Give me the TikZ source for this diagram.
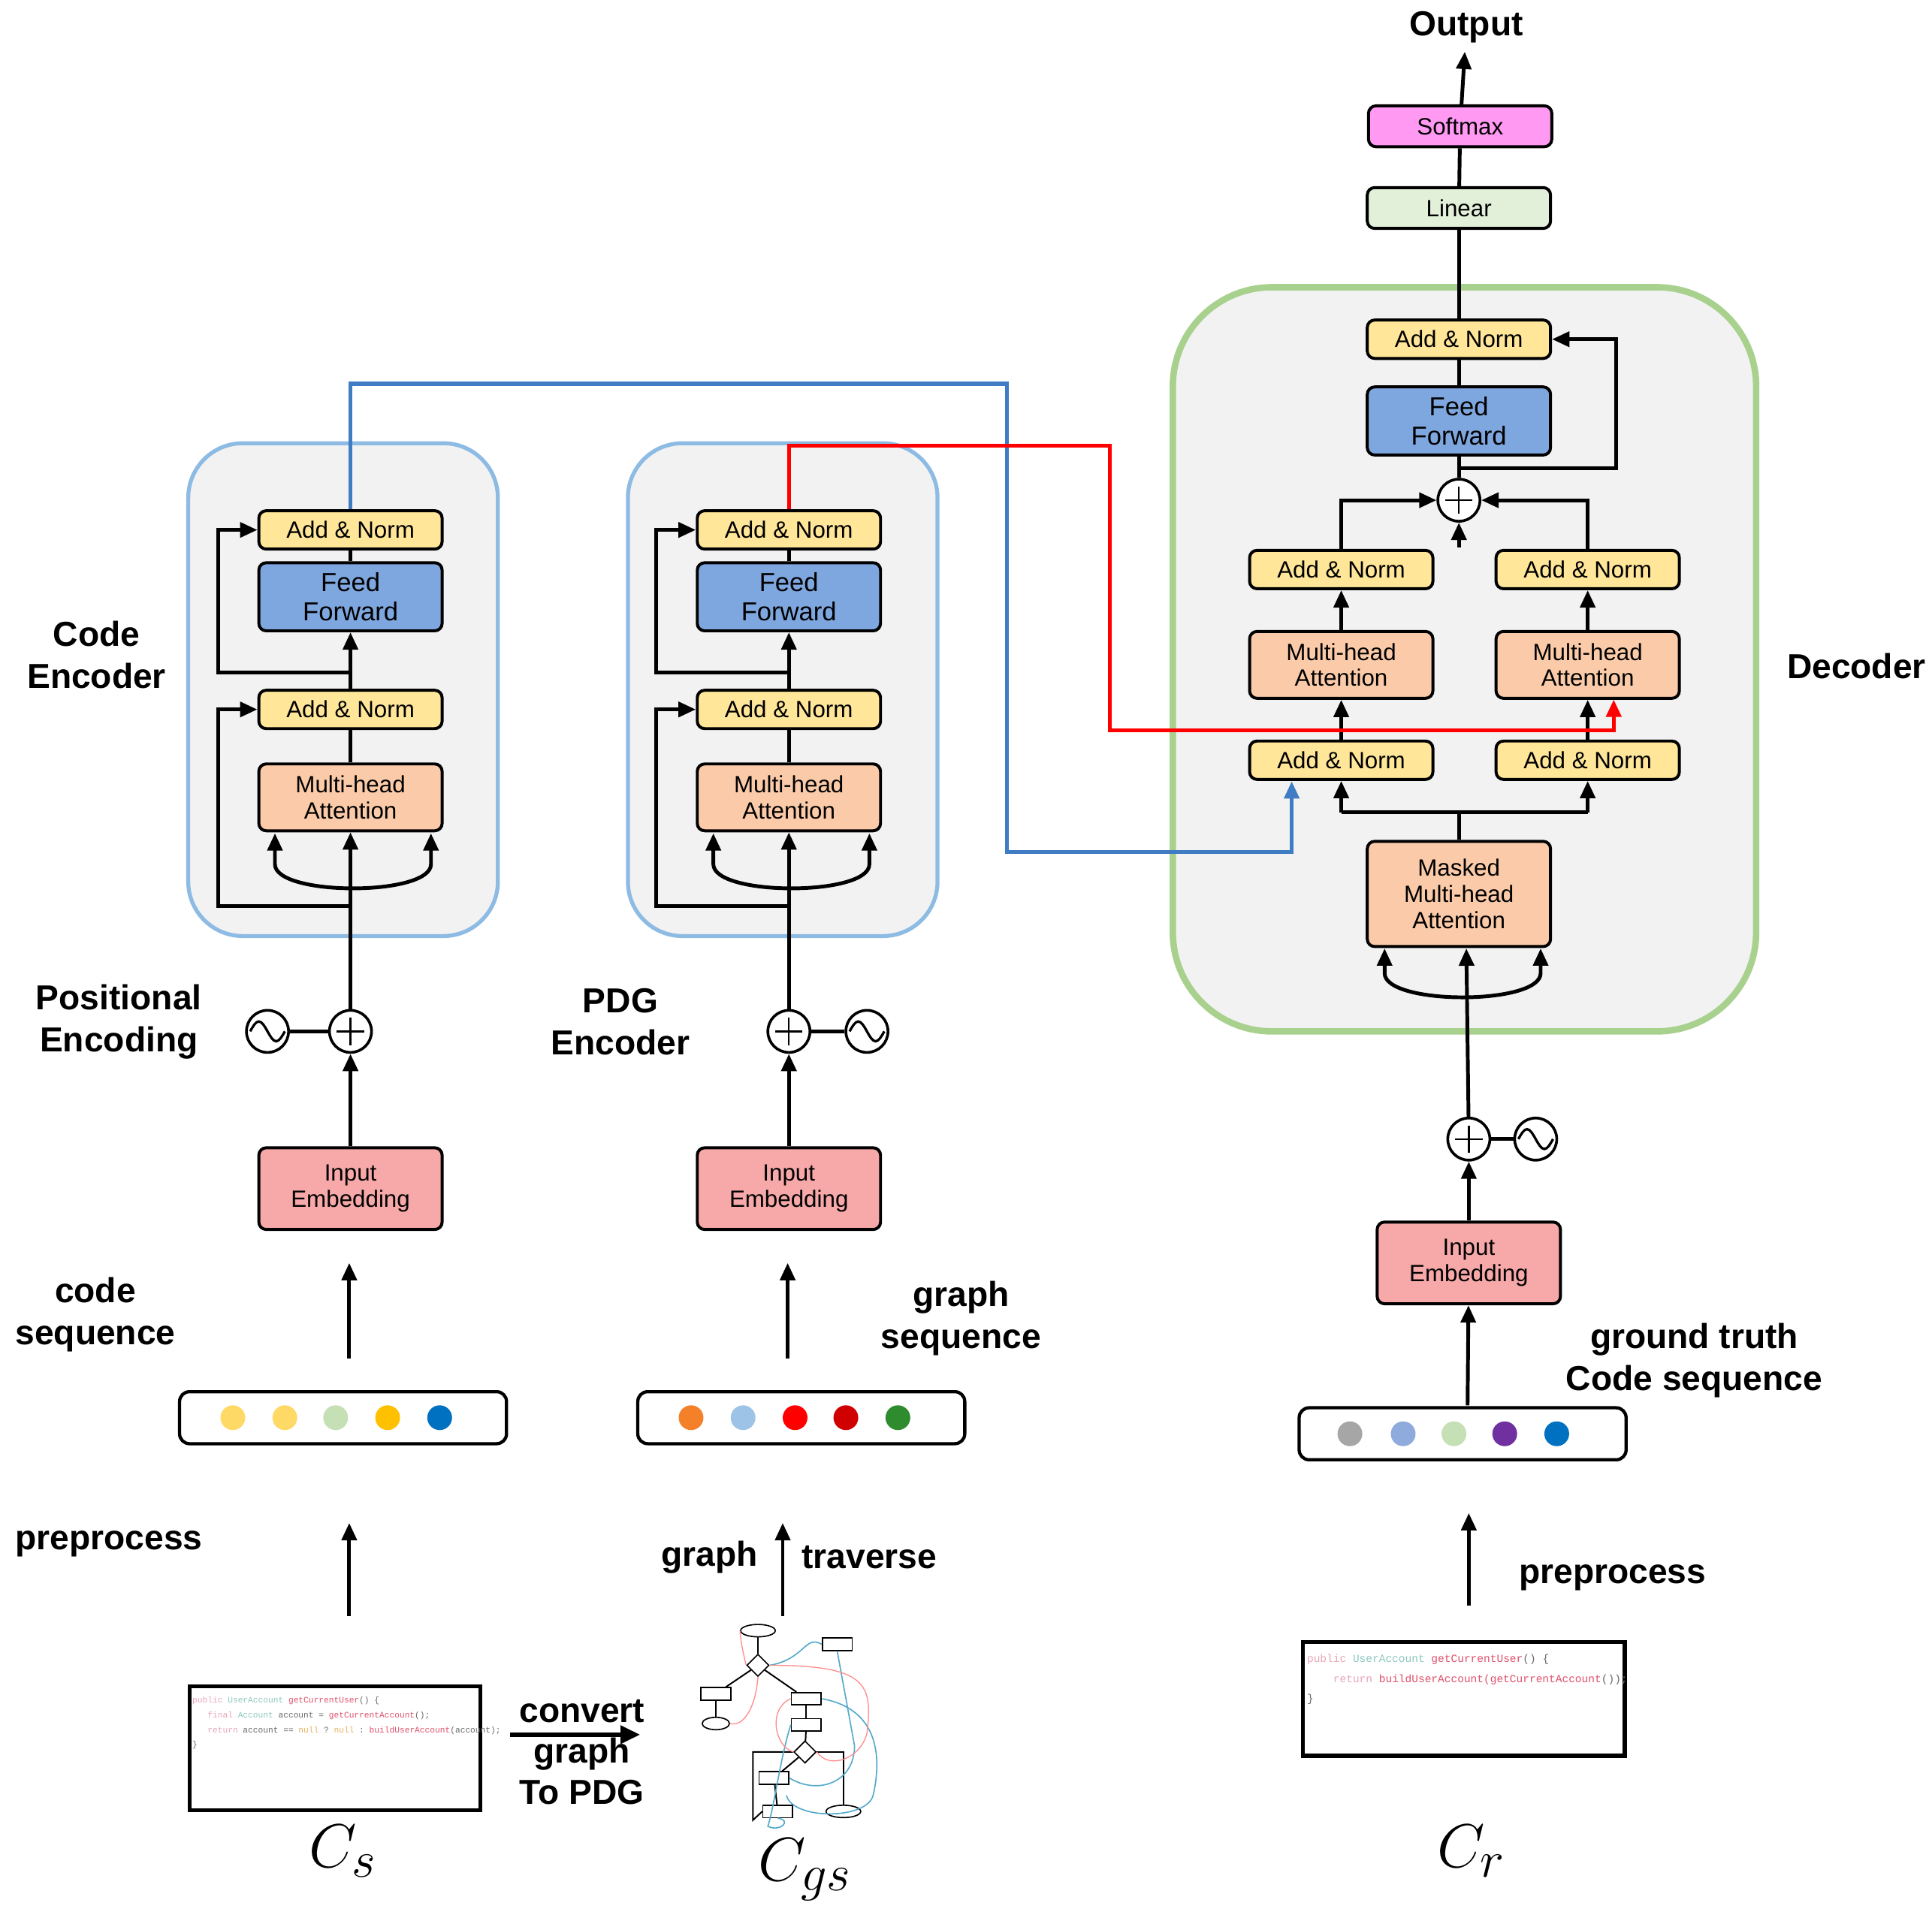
\documentclass[tikz,border=0pt]{standalone}
\usepackage{fontspec}
\setmainfont{Liberation Sans}
\setmonofont{Liberation Mono}
\usetikzlibrary{arrows.meta,calc,shapes.geometric}
\definecolor{anY}{HTML}{FFE699}
\definecolor{ffB}{HTML}{7FA7DF}
\definecolor{mhaP}{HTML}{FBCBA9}
\definecolor{embP}{HTML}{F7A8A8}
\definecolor{smP}{HTML}{FF99F2}
\definecolor{linG}{HTML}{E2F0D9}
\definecolor{panelB}{HTML}{8DBBE3}
\definecolor{panelG}{HTML}{A9D18E}
\definecolor{panelF}{HTML}{F2F2F2}
\definecolor{connB}{HTML}{3F7CC4}
\definecolor{kw}{HTML}{E8A6B8}
\definecolor{ty}{HTML}{8CC8BE}
\definecolor{fn}{HTML}{E0506A}
\definecolor{pl}{HTML}{6A6A6A}
\definecolor{nl}{HTML}{E8B060}
\tikzset{
  blk/.style={draw, line width=1.2pt, rounded corners=3pt, minimum width=74pt, align=center, inner sep=1pt, font=\fontsize{9.5}{10.5}\selectfont},
  an/.style={blk, fill=anY, minimum height=15.5pt},
  ff/.style={blk, fill=ffB, minimum height=27.5pt, font=\fontsize{10.5}{12}\selectfont},
  mha/.style={blk, fill=mhaP, minimum height=27pt},
  emb/.style={blk, fill=embP, minimum height=33pt},
  ln/.style={line width=1.5pt},
  arr/.style={line width=1.5pt, -{Triangle[length=7pt,width=6pt]}},
  plus/.style={circle, draw, fill=white, line width=1.1pt, minimum size=17pt, inner sep=0pt,
    path picture={\draw[line width=0.7pt] (path picture bounding box.center) +(-5.5pt,0) -- +(5.5pt,0) +(0,-5.5pt) -- +(0,5.5pt);}},
  sine/.style={circle, draw, fill=white, line width=1.1pt, minimum size=17pt, inner sep=0pt,
    path picture={\draw[line width=1pt] ([xshift=-7pt]path picture bounding box.center) sin ++(3.5pt,4pt) cos ++(3.5pt,-4pt) sin ++(3.5pt,-4pt) cos ++(3.5pt,4pt);}},
  lab/.style={font=\fontsize{14}{17}\selectfont\bfseries, align=center},
  tok/.style={draw, line width=1.3pt, rounded corners=4pt, fill=white},
  code/.style={draw, line width=1.6pt, fill=white},
  gn/.style={draw, line width=0.5pt, fill=white, minimum width=12pt, minimum height=5pt, inner sep=0pt},
}
\begin{document}
\begin{tikzpicture}[x=0.5pt,y=-0.5pt]
\useasboundingbox (0,0) rectangle (1560,1551);

% panels
\draw[panelB, line width=1.6pt, fill=panelF, rounded corners=22pt] (152,358) rectangle (402,756);
\draw[panelB, line width=1.6pt, fill=panelF, rounded corners=22pt] (507,358) rectangle (757,756);
\draw[panelG, line width=2.6pt, fill=panelF, rounded corners=40pt] (947,232) rectangle (1418,833);

% encoders
\foreach \c/\n/\s in {283/a/-67, 637/b/63}{
  \node[an] (\n an2) at (\c,428) {Add \& Norm};
  \node[ff] (\n ff) at (\c,482) {Feed\\Forward};
  \node[an] (\n an1) at (\c,573) {Add \& Norm};
  \node[mha] (\n mha) at (\c,644) {Multi-head\\Attention};
  \node[plus] (\n plus) at (\c,833) {};
  \node[sine] (\n sin) at (\c+\s,833) {};
  \node[emb] (\n emb) at (\c,960) {Input\\Embedding};
  \draw[ln] (\n plus) -- (\n sin);
  \draw[arr] (\n plus) -- (\n mha);
  \draw[ln] (\n mha) -- (\n an1);
  \draw[arr] (\n an1) -- (\n ff);
  \draw[ln] (\n ff) -- (\n an2);
  \draw[arr] (\c,732) -- (\c-107,732) |- (\n an1.west);
  \draw[arr] (\c,543) -- (\c-107,543) |- (\n an2.west);
  \draw[line width=1.5pt, {Triangle[length=7pt,width=6pt]}-{Triangle[length=7pt,width=6pt]}] (\c-61,673) -- (\c-61,698) .. controls (\c-61,724) and (\c+65,724) .. (\c+65,698) -- (\c+65,673);
  \draw[arr] (\n emb) -- (\n plus);
  \coordinate (\n in1) at (\c-1,1097);
  \coordinate (\n in2) at (\c-1,1020);
  \draw[arr] (\n in1) -- (\n in2);
}

% decoder
\node[font=\fontsize{14}{17}\selectfont\bfseries] (out) at (1184,22) {Output};
\node[blk, fill=smP, minimum height=16.5pt] (dsm) at (1179,102) {Softmax};
\node[blk, fill=linG, minimum height=16.5pt] (dlin) at (1178,168) {Linear};
\node[an] (dan3) at (1178,274) {Add \& Norm};
\node[ff] (dff) at (1178,340) {Feed\\Forward};
\node[plus] (dplus) at (1178,404) {};
\node[an] (danl2) at (1083,460) {Add \& Norm};
\node[an] (danr2) at (1282,460) {Add \& Norm};
\node[mha] (dmhl) at (1083,537) {Multi-head\\Attention};
\node[mha] (dmhr) at (1282,537) {Multi-head\\Attention};
\node[an] (danl1) at (1083,614) {Add \& Norm};
\node[an] (danr1) at (1282,614) {Add \& Norm};
\node[blk, fill=mhaP, minimum height=42.5pt] (dmm) at (1178,722) {Masked\\Multi-head\\Attention};
\node[plus] (dp2) at (1186,920) {};
\node[sine] (ds2) at (1240,920) {};
\node[emb] (demb) at (1186,1020) {Input\\Embedding};

\draw[arr] (dsm) -- (out);
\draw[ln] (dlin) -- (dsm);
\draw[ln] (dan3) -- (dlin);
\draw[ln] (dff) -- (dan3);
\draw[ln] (dff) -- (dplus);
\draw[arr] (1178,378) -- (1305,378) |- (dan3.east);
\draw[arr] (danl2.north) |- (dplus.west);
\draw[arr] (danr2.north) |- (dplus.east);
\draw[arr] (1178,442) -- (dplus.south);
\draw[arr] (dmhl) -- (danl2);
\draw[arr] (dmhr) -- (danr2);
\draw[arr] (danl1) -- (dmhl);
\draw[arr] (danr1) -- (dmhr);
\draw[ln] (dmm.north) -- (1178,656);
\draw[arr] (1083,656) -- (danl1.south);
\draw[arr] (1282,656) -- (danr1.south);
\draw[ln] (1083,656) -- (1282,656);
\draw[line width=1.5pt, {Triangle[length=7pt,width=6pt]}-{Triangle[length=7pt,width=6pt]}] (1118,766) -- (1118,786) .. controls (1118,812) and (1244,812) .. (1244,786) -- (1244,766);
\draw[arr] (dp2) -- (1184,766);
\draw[ln] (dp2) -- (ds2);
\draw[arr] (demb) -- (dp2);
\coordinate (din1) at (1185,1135);
\draw[arr] (din1) -- (demb);

% cross connectors
\draw[connB, line width=1.6pt, -{Triangle[length=7pt,width=6pt]}] (aan2.north) -- (283,310) -- (813,310) -- (813,688) -- (1043,688) -- (1043,631);
\draw[red, line width=1.6pt, -{Triangle[length=7pt,width=6pt]}] (ban2.north) -- (637,360) -- (896,360) -- (896,590) -- (1303,590) -- (1303,565);

% token boxes
\node[tok, minimum width=132pt, minimum height=21pt] (ta) at (277,1145) {};
\foreach \x/\col in {188/FFD966, 230/FFD966, 271/C5E0B4, 313/FFC000, 355/0070C0}{
  \definecolor{tmpc}{HTML}{\col}\fill[tmpc] (\x,1145) circle (5pt);}
\node[tok, minimum width=132pt, minimum height=21pt] (tb) at (647,1145) {};
\foreach \x/\col in {558/F4802A, 600/9DC3E6, 642/FF0000, 683/D00000, 725/2E8B2E}{
  \definecolor{tmpc}{HTML}{\col}\fill[tmpc] (\x,1145) circle (5pt);}
\node[tok, minimum width=132pt, minimum height=21pt] (tc) at (1181,1158) {};
\foreach \x/\col in {1090/A6A6A6, 1133/8FAADC, 1174/C5E0B4, 1215/7030A0, 1257/0070C0}{
  \definecolor{tmpc}{HTML}{\col}\fill[tmpc] (\x,1158) circle (5pt);}

% preprocess arrows
\draw[arr] (282,1305) -- (282,1230);
\draw[arr] (632,1305) -- (632,1230);
\draw[arr] (1186,1297) -- (1186,1222);

% labels
\node[lab] at (78,529) {Code\\Encoder};
\node[lab] at (96,825) {Positional\\Encoding};
\node[lab] at (501,825) {PDG\\Encoder};
\node[lab] at (77,1062) {code\\sequence};
\node[lab] at (776,1065) {graph\\sequence};
\node[lab] at (88,1247) {preprocess};
\node[lab] at (573,1258) {graph};
\node[lab] at (702,1258) {traverse};
\node[lab] at (1499,538) {Decoder};
\node[lab] at (1368,1099) {ground truth\\Code sequence};
\node[lab] at (1302,1274) {preprocess};
\node[lab, font=\fontsize{14}{16.5}\selectfont\bfseries] (conv) at (470,1415) {convert\\graph\\To PDG};
\draw[line width=2pt, -{Triangle[length=8pt,width=7pt]}] (412,1401) -- (517,1401);

% code boxes
\draw[code] (153,1362) rectangle (388,1462);
\node[anchor=north west, inner sep=0pt, font=\ttfamily\fontsize{3.4}{6}\selectfont, align=left] at (155,1370) {%
\textcolor{kw}{public} \textcolor{ty}{UserAccount} \textcolor{fn}{getCurrentUser}\textcolor{pl}{() \{}\\
\ \ \ \textcolor{kw}{final} \textcolor{ty}{Account} \textcolor{pl}{account =} \textcolor{fn}{getCurrentAccount}\textcolor{pl}{();}\\
\ \ \ \textcolor{kw}{return} \textcolor{pl}{account ==} \textcolor{nl}{null} \textcolor{pl}{?} \textcolor{nl}{null} \textcolor{pl}{:} \textcolor{fn}{buildUserAccount}\textcolor{pl}{(account);}\\
\textcolor{pl}{\}}};
\draw[code] (1052,1326) rectangle (1312,1418);
\node[anchor=north west, inner sep=0pt, font=\ttfamily\fontsize{4.4}{8}\selectfont, align=left] at (1055,1336) {%
\textcolor{kw}{public} \textcolor{ty}{UserAccount} \textcolor{fn}{getCurrentUser}\textcolor{pl}{() \{}\\
\ \ \ \ \textcolor{kw}{return} \textcolor{fn}{buildUserAccount(getCurrentAccount}\textcolor{pl}{());}\\
\textcolor{pl}{\}}};

\node at (277,1495) {\fontsize{30}{32}\selectfont$C_s$};
\node at (650,1510) {\fontsize{30}{32}\selectfont$C_{gs}$};
\node at (1188,1495) {\fontsize{30}{32}\selectfont$C_r$};

% PDG graph sketch
\begin{scope}[every node/.style={gn}]
\node[ellipse, minimum width=14pt] (g1) at (612,1317) {};
\node[diamond, minimum width=9pt, minimum height=9pt] (g2) at (612,1345) {};
\node (g3) at (578,1368) {};
\node[ellipse, minimum width=11pt] (g4) at (578,1392) {};
\node (g5) at (651,1372) {};
\node (g6) at (651,1393) {};
\node[diamond, minimum width=9pt, minimum height=9pt] (g7) at (650,1415) {};
\node (g8) at (625,1436) {};
\node (g9) at (628,1463) {};
\node[ellipse, minimum width=14pt] (g10) at (681,1463) {};
\node (g11) at (676,1328) {};
\end{scope}
\begin{scope}[line width=0.6pt]
\draw (g1) -- (g2); \draw (g2) -- (g3); \draw (g3) -- (g4); \draw (g2) -- (g5);
\draw (g5) -- (g6); \draw (g6) -- (g7); \draw (g7) -- (g8); \draw (g8) -- (g9);
\draw (g7.east) -| (g10.north);
\draw (g7.west) -- (608,1415) -- (608,1470) -- (g9.west);
\end{scope}
\begin{scope}[line width=0.5pt, cyan!60!gray]
\draw (g2.east) .. controls (650,1340) and (650,1320) .. (g11.west);
\draw (g11.south) -- (690,1410) .. controls (690,1440) and (660,1450) .. (g8.east);
\draw (g5.east) .. controls (710,1380) and (712,1420) .. (705,1450) .. controls (700,1470) and (640,1470) .. (635,1450);
\draw (g6.west) .. controls (630,1420) and (625,1460) .. (620,1475) .. controls (630,1480) and (640,1470) .. (g9.south);
\end{scope}
\begin{scope}[line width=0.4pt, red!45]
\draw (g1.west) .. controls (598,1325) and (600,1335) .. (g2.west);
\draw (g2.south) .. controls (610,1380) and (600,1395) .. (g4.east);
\draw (g2.east) .. controls (700,1345) and (705,1360) .. (700,1400) .. controls (695,1420) and (670,1430) .. (g7.east);
\draw (g5.west) .. controls (620,1380) and (625,1410) .. (g7.west);
\end{scope}
\end{tikzpicture}
\end{document}
